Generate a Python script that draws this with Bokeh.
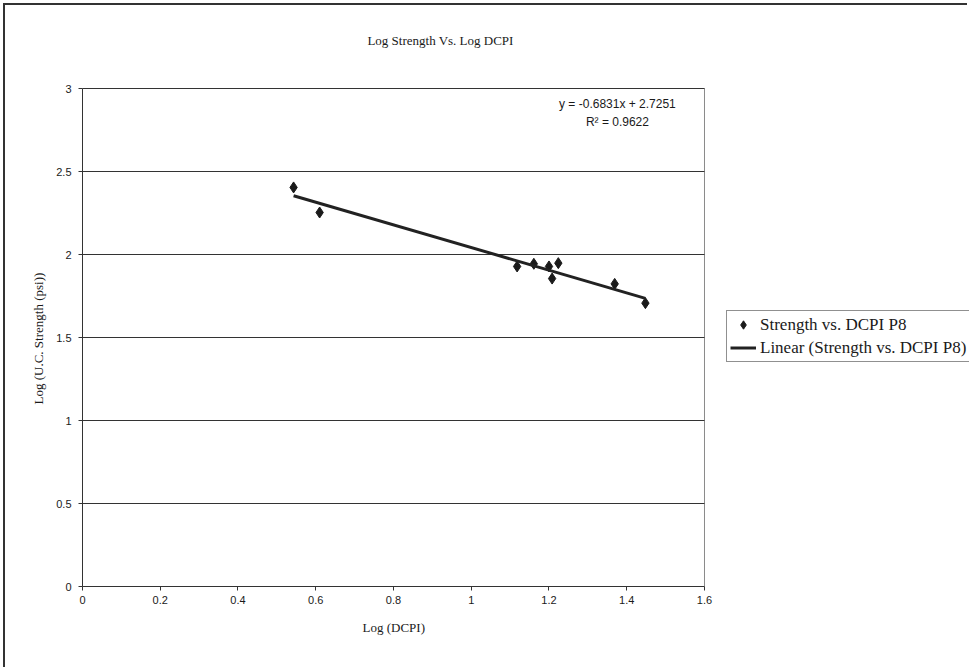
from bokeh.plotting import figure
from bokeh.models import (ColumnDataSource, Label, Legend, LegendItem,
                          FixedTicker, Range1d, Title)
from bokeh.embed import file_html
from bokeh.resources import INLINE

# Field readings: log of DCPI penetration index vs log of unconfined strength
log_dcpi = [0.543, 0.610, 1.118, 1.161, 1.200, 1.208, 1.224, 1.369, 1.448]
log_strength = [2.404, 2.253, 1.928, 1.944, 1.928, 1.855, 1.948, 1.823, 1.707]

# Least-squares trend reported for the series
slope = -0.6831
intercept = 2.7251
r_squared = 0.9622

x_ticks = [0, 0.2, 0.4, 0.6, 0.8, 1.0, 1.2, 1.4, 1.6]
y_ticks = [0, 0.5, 1.0, 1.5, 2.0, 2.5, 3.0]
X_MAX = 1.6
Y_MAX = 3.0

SERIF = "Liberation Serif"
SANS = "Liberation Sans"
INK = "#1a1a1a"

# The frame runs to the top and right canvas edges so that the title,
# legend and equation can sit around the bounded plotting area.
p = figure(width=964, height=664, output_backend="svg", toolbar_location=None,
           x_range=Range1d(0, 2.2817), y_range=Range1d(0, 3.5),
           min_border_left=77, min_border_right=0,
           min_border_top=0, min_border_bottom=83)
p.title.text = ""
p.title.visible = False
p.styles = {"margin": "3px 0 0 3px",
            "border-top": "2px solid #333",
            "border-left": "2px solid #333"}

p.background_fill_color = "white"
p.border_fill_color = "white"
p.outline_line_color = None
p.xgrid.visible = False
p.ygrid.visible = False

# axes limited to the plotting area
p.xaxis.ticker = FixedTicker(ticks=x_ticks)
p.yaxis.ticker = FixedTicker(ticks=y_ticks)
p.xaxis.bounds = (0, X_MAX)
p.yaxis.bounds = (0, Y_MAX)
p.xaxis.major_label_overrides = {0: "0", 1.0: "1"}
p.yaxis.major_label_overrides = {0: "0", 1.0: "1", 2.0: "2", 3.0: "3"}
for ax in (p.xaxis[0], p.yaxis[0]):
    ax.axis_line_color = "#333333"
    ax.major_tick_line_color = "#333333"
    ax.major_tick_in = 0
    ax.major_tick_out = 4
    ax.minor_tick_line_color = None
    ax.major_label_text_font = SANS
    ax.major_label_text_font_size = "11px"
    ax.major_label_text_color = INK
p.xaxis.major_label_standoff = 5
p.yaxis.major_label_standoff = 7

# axis titles, centred on the bounded plotting area
x_title = Title(text="Log (DCPI)", align="left", offset=280, standoff=22,
                text_font=SERIF, text_font_size="13px",
                text_font_style="normal", text_color=INK)
p.add_layout(x_title, "below")
y_title = Title(text="Log (U.C. Strength (psi))", align="left", offset=182,
                standoff=16, text_font=SERIF, text_font_size="13px",
                text_font_style="normal", text_color=INK)
p.add_layout(y_title, "left")

# plotting-area border and horizontal gridlines
p.quad(left=[0], right=[X_MAX], bottom=[0], top=[Y_MAX],
       fill_color=None, line_color="#8a8a8a", line_width=1)
grid_y = [v for v in y_ticks if v > 0]
p.segment(x0=[0] * len(grid_y), x1=[X_MAX] * len(grid_y),
          y0=grid_y, y1=grid_y, line_color="#333333", line_width=1)

# data series
src = ColumnDataSource(dict(x=log_dcpi, y=log_strength))
pts = p.scatter("x", "y", source=src, marker="diamond", size=11,
                fill_color=INK, line_color=INK)

# linear trend across the data span
tx = [min(log_dcpi), max(log_dcpi)]
ty = [slope * v + intercept for v in tx]
trend = p.line(tx, ty, line_color="#222222", line_width=3)

# trend equation, two centred lines
eq = f"y = {slope:.4f}x + {intercept:.4f}"
p.add_layout(Label(x=1.376, y=2.904, text=eq, text_font=SANS,
                   text_font_size="12px", text_color=INK,
                   text_align="center", text_baseline="middle"))
p.add_layout(Label(x=1.376, y=2.801, text=f"R\u00b2 = {r_squared:.4f}",
                   text_font=SANS, text_font_size="12px", text_color=INK,
                   text_align="center", text_baseline="middle"))

# chart title
p.add_layout(Label(x=0.921, y=3.289, text="Log Strength Vs. Log DCPI",
                   text_font=SERIF, text_font_size="13px", text_color=INK,
                   text_align="center", text_baseline="middle"))

legend = Legend(items=[
    LegendItem(label="Strength vs. DCPI P8", renderers=[pts]),
    LegendItem(label="Linear (Strength vs. DCPI P8)", renderers=[trend]),
], location=(644, 224))
legend.label_text_font = SERIF
legend.label_text_font_size = "17px"
legend.label_text_color = INK
legend.glyph_width = 26
legend.glyph_height = 21
legend.label_height = 21
legend.label_width = 230
legend.label_standoff = 4
legend.padding = 3
legend.spacing = 2
legend.margin = 0
legend.border_line_color = "#222222"
legend.border_line_width = 1
legend.background_fill_alpha = 1
p.add_layout(legend)

open("out.html", "w").write(file_html(p, INLINE))
